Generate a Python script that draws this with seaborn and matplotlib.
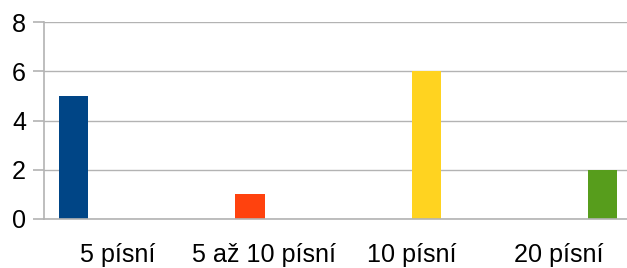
import matplotlib.pyplot as plt
import seaborn as sns
import pandas as pd

categories = ["5 písní", "5 až 10 písní", "10 písní", "20 písní"]
counts = [5, 1, 6, 2]
colors = ["#004586", "#ff420e", "#ffd320", "#579d1c"]
yticks = [0, 2, 4, 6, 8]

df = pd.DataFrame({"kategorie": categories, "pocet": counts})

sns.set_style("white")
plt.rcParams["font.family"] = ["Liberation Sans", "DejaVu Sans"]

fig = plt.figure(figsize=(6.27, 2.68), dpi=100)
ax = fig.add_axes([44 / 627, 49 / 268, 588 / 627, 197 / 268])

sns.barplot(
    data=df, x="kategorie", y="pocet", hue="kategorie",
    order=categories, hue_order=categories, palette=colors,
    dodge=True, width=0.8, saturation=1, legend=False, linewidth=0, ax=ax,
)

ax.set_xlim(-0.5, 3.5)
ax.set_ylim(0, 8)
ax.set_yticks(yticks)
ax.yaxis.grid(True, color="#b3b3b3", linewidth=1)
ax.set_axisbelow(True)

for side in ["top", "right"]:
    ax.spines[side].set_visible(False)
for side in ["left", "bottom"]:
    ax.spines[side].set_color("#b3b3b3")
    ax.spines[side].set_linewidth(1.2)

ax.set_xticks([i - 0.5 for i in range(len(categories) + 1)], minor=True)
ax.tick_params(axis="x", which="minor", length=8, width=1.2, color="#b3b3b3", direction="out")
ax.tick_params(axis="x", which="major", length=0, pad=17.5, labelsize=18.1, labelcolor="black")
ax.tick_params(axis="y", length=8, width=1.2, color="#b3b3b3", pad=5, labelsize=18.1,
               labelcolor="black", left=True)

ax.set_xlabel("")
ax.set_ylabel("")

fig.savefig("out.png", dpi=100)
